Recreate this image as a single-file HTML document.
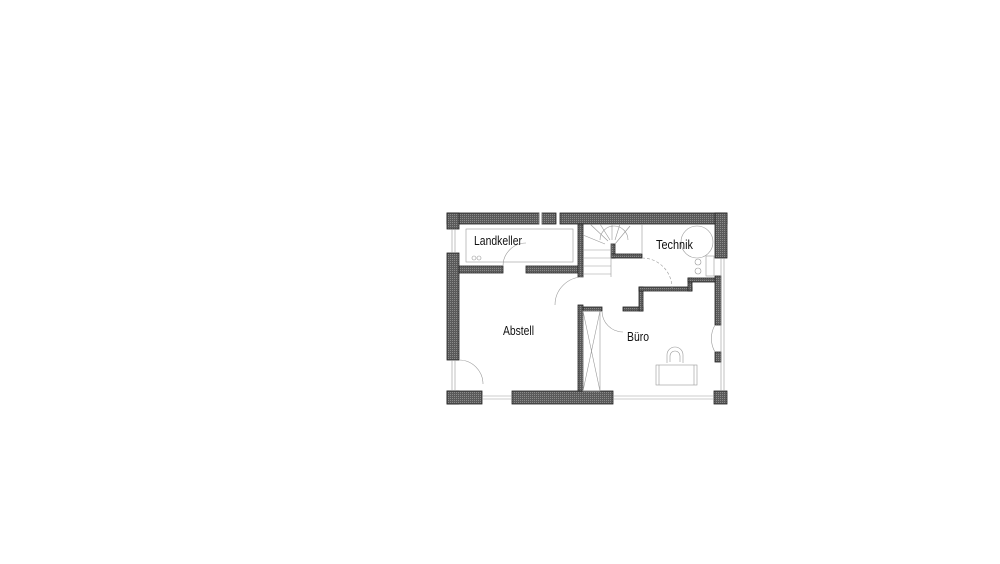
<!DOCTYPE html>
<html><head><meta charset="utf-8"><style>
html,body{margin:0;padding:0;background:#fff;width:1000px;height:564px;overflow:hidden}
svg{position:absolute;left:0;top:0}
text{font-family:"Liberation Sans Narrow","Liberation Sans",sans-serif;fill:#111}
</style></head><body>
<svg width="1000" height="564" viewBox="0 0 1000 564">
<defs><pattern id="h" width="2" height="2" patternUnits="userSpaceOnUse"><rect width="2" height="2" fill="#5a5a5a"/><rect width="1" height="1" fill="#8a8a8a"/></pattern></defs>
<g fill="url(#h)" stroke="#222" stroke-width="0.8">
<rect x="447" y="213" width="92" height="11"/>
<rect x="542" y="213" width="14" height="11"/>
<rect x="560" y="213" width="167" height="11"/>
<rect x="447" y="213" width="12" height="16"/>
<rect x="447" y="253" width="12" height="107"/>
<rect x="447" y="391" width="12" height="13"/>
<rect x="447" y="391" width="35" height="13"/>
<rect x="512" y="391" width="101" height="13"/>
<rect x="714" y="391" width="13" height="13"/>
<rect x="715" y="213" width="12" height="45"/>
<rect x="715" y="276" width="6" height="49"/>
<rect x="715" y="352" width="6" height="10"/>
<rect x="459" y="266" width="44" height="7"/>
<rect x="526" y="266" width="54" height="7"/>
<rect x="578" y="224" width="5" height="53"/>
<rect x="578" y="305" width="5" height="86"/>
<rect x="583" y="307" width="19" height="4"/>
<rect x="623" y="307" width="20" height="4"/>
<rect x="639" y="287" width="4" height="24"/>
<rect x="639" y="287" width="53" height="4"/>
<rect x="688" y="278" width="4" height="13"/>
<rect x="688" y="278" width="27" height="4"/>
<rect x="611" y="244" width="4" height="14"/>
<rect x="611" y="254" width="31" height="4"/>
</g>
<g fill="none" stroke="#999" stroke-width="0.6">
<line x1="539" y1="213" x2="539" y2="224"/><line x1="542" y1="213" x2="542" y2="224"/>
<line x1="452" y1="229" x2="452" y2="253"/><line x1="455" y1="229" x2="455" y2="253"/>
<line x1="452" y1="360" x2="452" y2="391"/><line x1="455" y1="360" x2="455" y2="391"/>
<line x1="482" y1="396" x2="512" y2="396"/><line x1="482" y1="399" x2="512" y2="399"/>
<line x1="613" y1="396" x2="714" y2="396"/><line x1="613" y1="399" x2="714" y2="399"/>
<line x1="721" y1="258" x2="721" y2="391"/><line x1="724" y1="258" x2="724" y2="391"/>
<rect x="466" y="229" width="107" height="33"/>
<circle cx="474" cy="258" r="2"/><circle cx="479" cy="258" r="2"/>
<path d="M503 266 A23 23 0 0 1 526 243"/>
<path d="M583 277 A28 28 0 0 0 555 305"/>
<path d="M602 311 A21 21 0 0 0 623 332"/>
<path d="M715 325 A27 27 0 0 0 715 352"/>
<path d="M459 360 A24 24 0 0 1 483 384"/>
<rect x="583" y="311" width="17" height="80"/>
<line x1="583" y1="311" x2="600" y2="391"/><line x1="600" y1="311" x2="583" y2="391"/>
<line x1="583" y1="250" x2="611" y2="250"/><line x1="583" y1="258" x2="611" y2="258"/><line x1="583" y1="266" x2="611" y2="266"/><line x1="583" y1="274" x2="611" y2="274"/>
<line x1="611" y1="244" x2="611" y2="277"/>
<path d="M583 235 L605 244 M590 224 L608 241 M600 224 L610 240 M612 224 L612 240 M620 224 L615 240 M630 226 L615 244"/>
<path d="M600 240 A14 14 0 0 1 628 240"/>
<line x1="642" y1="224" x2="642" y2="254"/>
<path d="M642 258 A30 30 0 0 1 672 288" stroke-dasharray="3 2"/>
<circle cx="697" cy="242" r="16"/>
<circle cx="698" cy="262" r="3"/><circle cx="698" cy="271" r="3"/>
<rect x="706" y="256" width="8" height="20"/>
<rect x="656" y="365" width="41" height="20"/>
<line x1="659" y1="365" x2="659" y2="385"/><line x1="694" y1="365" x2="694" y2="385"/>
<path d="M667 363 V355 A8 8 0 0 1 683 355 V363"/>
<path d="M670 362 V356 A5 5 0 0 1 680 356 V362"/>
</g>
<text x="474" y="245" font-size="13" textLength="48" lengthAdjust="spacingAndGlyphs">Landkeller</text>
<text x="656" y="249" font-size="13" textLength="37" lengthAdjust="spacingAndGlyphs">Technik</text>
<text x="503" y="335" font-size="13" textLength="31" lengthAdjust="spacingAndGlyphs">Abstell</text>
<text x="627" y="341" font-size="13" textLength="22" lengthAdjust="spacingAndGlyphs">Büro</text>
</svg>
</body></html>
